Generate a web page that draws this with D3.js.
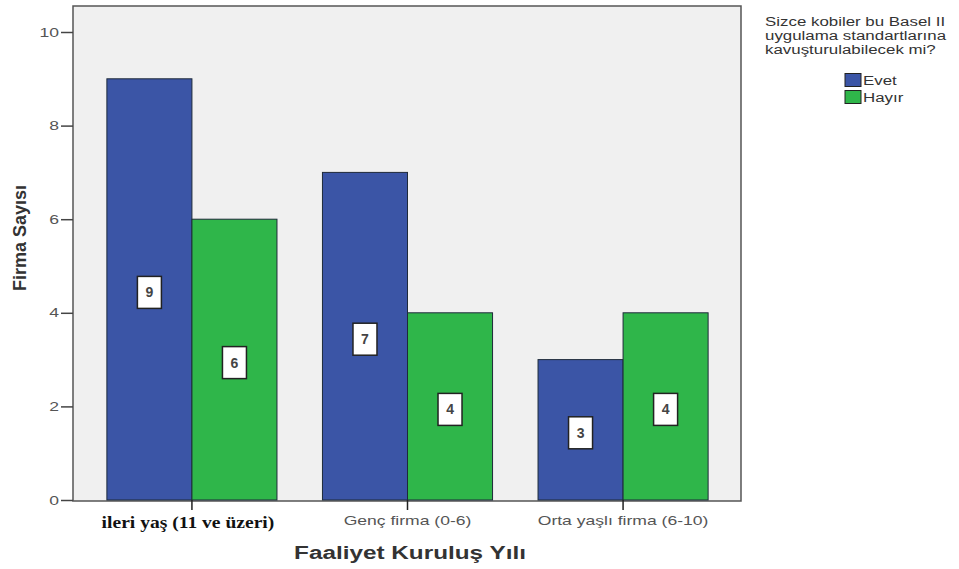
<!DOCTYPE html>
<html>
<head>
<meta charset="utf-8">
<script src="https://cdn.jsdelivr.net/npm/d3@7"></script>
<style>
  html, body { margin: 0; padding: 0; background: #ffffff; }
  svg { display: block; font-family: "Liberation Sans", Arial, sans-serif; }
</style>
</head>
<body>
<svg id="chart" width="959" height="569"></svg>
<script>
// Firm counts by founding age group and answer
const categories = ["ileri yaş (11 ve üzeri)", "Genç firma (0-6)", "Orta yaşlı firma (6-10)"];
const seriesNames = ["Evet", "Hayır"];
const evetValues = [9, 7, 3];
const hayirValues = [6, 4, 4];
const yTicks = [0, 2, 4, 6, 8, 10];
const legendTitle = ["Sizce kobiler bu Basel II", "uygulama standartlarına", "kavuşturulabilecek mi?"];
const colors = { "Evet": "#3b55a6", "Hayır": "#2fb64a" };

const svg = d3.select("#chart");
const frame = { left: 73, right: 741, top: 6, bottom: 501 };
const WIDEN = 1.35; // horizontal widening of sans-serif text

// widen text horizontally while keeping its anchor
function widen(sel, k) {
  sel.each(function () {
    const w = this.getComputedTextLength();
    d3.select(this).attr("textLength", w * k).attr("lengthAdjust", "spacingAndGlyphs");
  });
}

const y = d3.scaleLinear().domain([0, 10]).range([500, 32]);
const x = d3.scaleBand().domain(categories)
  .range([84.25, 730.75]).paddingInner(0.211).paddingOuter(0.105);
const xs = d3.scaleBand().domain(seriesNames).range([0, x.bandwidth()]);

// plot background and frame
svg.append("rect")
  .attr("x", frame.left).attr("y", frame.top)
  .attr("width", frame.right - frame.left).attr("height", frame.bottom - frame.top)
  .attr("fill", "#f0f0f0").attr("stroke", "#555").attr("stroke-width", 1.5);

const rows = categories.map((c, i) => ({ cat: c, values: [
  { key: "Evet", value: evetValues[i] },
  { key: "Hayır", value: hayirValues[i] }
]}));

const groups = svg.append("g").selectAll("g").data(rows).join("g")
  .attr("transform", d => `translate(${x(d.cat)},0)`);

groups.selectAll("rect").data(d => d.values).join("rect")
  .attr("x", d => xs(d.key))
  .attr("y", d => y(d.value))
  .attr("width", xs.bandwidth())
  .attr("height", d => y(0) - y(d.value))
  .attr("fill", d => colors[d.key])
  .attr("stroke", "#1e2a3a").attr("stroke-width", 1);

// value labels in white boxes
const lab = groups.selectAll("g.lab").data(d => d.values).join("g")
  .attr("class", "lab")
  .attr("transform", d => `translate(${xs(d.key) + xs.bandwidth() / 2},${(y(d.value) + y(0)) / 2 + 3})`);
lab.append("rect")
  .attr("x", -12).attr("y", -16).attr("width", 24).attr("height", 32)
  .attr("fill", "#ffffff").attr("stroke", "#222").attr("stroke-width", 1.5);
lab.append("text")
  .attr("text-anchor", "middle").attr("dy", "0.36em")
  .attr("font-size", 14).attr("font-weight", "bold").attr("fill", "#444")
  .text(d => d.value);

// y axis
const yAxis = svg.append("g").attr("transform", `translate(${frame.left},0)`)
  .call(d3.axisLeft(y).tickValues(yTicks).tickSize(12).tickPadding(2));
yAxis.select(".domain").remove();
yAxis.selectAll("line").attr("stroke", "#444").attr("stroke-width", 1.5);
yAxis.selectAll("text").attr("font-size", 13).attr("fill", "#555")
  .attr("font-family", "Liberation Sans, Arial, sans-serif")
  .call(widen, WIDEN);

// x axis
const xAxis = svg.append("g").attr("transform", `translate(0,${y(0)})`)
  .call(d3.axisBottom(x).tickSize(10).tickPadding(6));
xAxis.select(".domain").remove();
xAxis.selectAll("line").attr("stroke", "#222").attr("stroke-width", 1.5);
const xt = xAxis.selectAll("text")
  .attr("font-family", (d, i) => i === 0 ? "Liberation Serif, serif" : "Liberation Sans, Arial, sans-serif")
  .attr("font-size", (d, i) => i === 0 ? 17 : 13)
  .attr("font-weight", (d, i) => i === 0 ? "bold" : "normal")
  .attr("fill", (d, i) => i === 0 ? "#111" : "#555");
xt.filter((d, i) => i > 0).call(widen, WIDEN);
xt.filter((d, i) => i === 0).attr("dx", -4).call(widen, 1.15);

// axis titles
svg.append("text")
  .attr("x", 410).attr("y", 559).attr("text-anchor", "middle")
  .attr("font-size", 18).attr("font-weight", "bold").attr("fill", "#333")
  .text("Faaliyet Kuruluş Yılı")
  .call(widen, WIDEN);
svg.append("text")
  .attr("transform", "translate(26,238) rotate(-90)").attr("text-anchor", "middle")
  .attr("font-size", 18).attr("font-weight", "bold").attr("fill", "#333")
  .text("Firma Sayısı");

// legend
const lg = svg.append("g");
lg.selectAll("text.t").data(legendTitle).join("text").attr("class", "t")
  .attr("x", 765).attr("y", (d, i) => 26 + i * 14)
  .attr("font-size", 12.5).attr("fill", "#333").text(d => d)
  .call(widen, WIDEN);
const items = lg.selectAll("g.it").data(seriesNames).join("g").attr("class", "it")
  .attr("transform", (d, i) => `translate(845,${73.5 + i * 17})`);
items.append("rect").attr("width", 16).attr("height", 13)
  .attr("fill", d => colors[d]).attr("stroke", "#222").attr("stroke-width", 1);
items.append("text").attr("x", 18).attr("y", 11)
  .attr("font-size", 12.5).attr("fill", "#333").text(d => d)
  .call(widen, WIDEN);
</script>
</body>
</html>
